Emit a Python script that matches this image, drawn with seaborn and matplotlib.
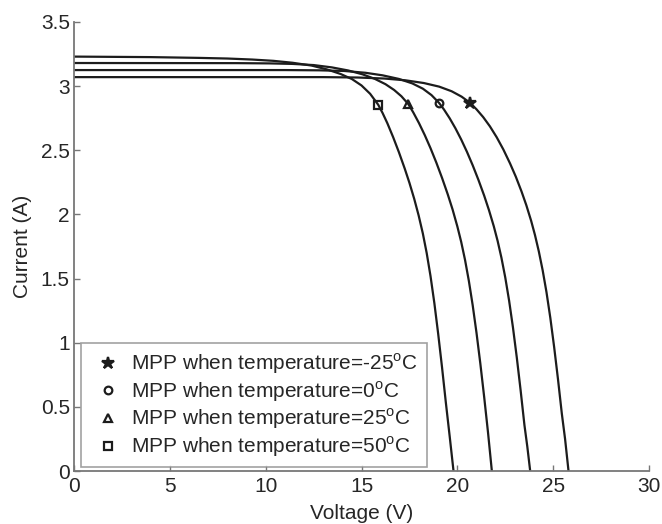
import matplotlib
matplotlib.use("Agg")
import matplotlib.pyplot as plt
import seaborn as sns
import pandas as pd

# I-V curves of the PV module at four cell temperatures
temps = [-25, 0, 25, 50]

v_m25 = [0, 13.0, 14.8, 16.2, 17.3, 18.25, 19.05, 19.7, 20.22, 20.66, 21.0, 21.35, 21.7,
         22.05, 22.4, 22.75, 23.05, 23.35, 23.6, 23.85, 24.05, 24.25, 24.45, 24.65,
         24.85, 25.05, 25.25, 25.45, 25.62, 25.8]
i_m25 = [3.07, 3.07, 3.067, 3.059, 3.045, 3.024, 2.996, 2.96, 2.918, 2.87, 2.819, 2.758, 2.686,
         2.602, 2.506, 2.397, 2.294, 2.178, 2.071, 1.95, 1.839, 1.712, 1.565, 1.394,
         1.194, 0.966, 0.716, 0.448, 0.25, 0]

v_0 = [0, 11.0, 12.8, 14.1, 15.2, 16.1, 16.95, 17.65, 18.2, 18.65, 19.04, 19.3, 19.6, 19.9,
       20.2, 20.5, 20.8, 21.1, 21.4, 21.65, 21.9, 22.1, 22.3, 22.5, 22.7, 22.9, 23.1,
       23.3, 23.5, 23.65, 23.8]
i_0 = [3.125, 3.125, 3.123, 3.118, 3.104, 3.084, 3.056, 3.021, 2.98, 2.93, 2.87, 2.818, 2.749,
       2.671, 2.584, 2.488, 2.383, 2.269, 2.146, 2.033, 1.908, 1.794, 1.662, 1.508, 1.328,
       1.12, 0.886, 0.63, 0.358, 0.19, 0]

v_25 = [0, 8.5, 10.2, 11.4, 12.5, 13.45, 14.3, 15.05, 15.7, 16.25, 16.70, 17.08, 17.44,
        17.7, 18.0, 18.3, 18.6, 18.9, 19.2, 19.5, 19.75, 20.0, 20.2, 20.4, 20.6, 20.8,
        21.0, 21.2, 21.4, 21.6, 21.8]
i_25 = [3.18, 3.179, 3.177, 3.173, 3.164, 3.146, 3.122, 3.092, 3.056, 3.015, 2.97, 2.921, 2.86,
        2.795, 2.711, 2.618, 2.516, 2.405, 2.285, 2.156, 2.039, 1.906, 1.786, 1.646, 1.482,
        1.292, 1.076, 0.836, 0.576, 0.30, 0]

v_50 = [0, 4.0, 6.5, 8.0, 9.3, 10.4, 11.4, 12.4, 13.2, 13.9, 14.5, 15.0, 15.45, 15.87,
        16.1, 16.35, 16.65, 16.95, 17.25, 17.5, 17.75, 17.98, 18.2, 18.4, 18.6, 18.8,
        19.0, 19.2, 19.4, 19.6, 19.8]
i_50 = [3.23, 3.226, 3.22, 3.215, 3.207, 3.197, 3.182, 3.16, 3.13, 3.095, 3.055, 3.005, 2.94,
        2.855, 2.79, 2.71, 2.602, 2.485, 2.359, 2.246, 2.121, 1.992, 1.851, 1.699, 1.519,
        1.309, 1.069, 0.809, 0.533, 0.27, 0]

# maximum power points
mpp_v = [20.66, 19.04, 17.44, 15.87]
mpp_i = [2.87, 2.87, 2.86, 2.855]
mpp_markers = ["*", "o", "^", "s"]

curves = [(v_m25, i_m25), (v_0, i_0), (v_25, i_25), (v_50, i_50)]

sns.set_theme(style="white")
plt.rcParams["font.family"] = ["Liberation Sans", "DejaVu Sans"]

fig = plt.figure(figsize=(6.62, 5.24), dpi=100)
ax = fig.add_axes([0.1118, 0.1011, 0.8686, 0.857])

line_col = "#1c1c1c"
for (v, i), t in zip(curves, temps):
    df = pd.DataFrame({"Voltage": v, "Current": i})
    sns.lineplot(data=df, x="Voltage", y="Current", ax=ax, sort=False,
                 color=line_col, linewidth=1.6, legend=False)

for vm, im, mk, t in zip(mpp_v, mpp_i, mpp_markers, temps):
    ms = 9 if mk == "*" else 5.5
    ax.plot([vm], [im], linestyle="none", marker=mk, markersize=ms,
            markerfacecolor=line_col if mk == "*" else "none",
            markeredgecolor=line_col, markeredgewidth=1.6,
            label=f"MPP when temperature={t}$^{{\\mathregular{{o}}}}$C")

ax.set_xlim(0, 30)
ax.set_ylim(0, 3.5)
ax.set_xticks([0, 5, 10, 15, 20, 25, 30])
ax.set_yticks([0, 0.5, 1, 1.5, 2, 2.5, 3, 3.5])
ax.set_xticklabels(["0", "5", "10", "15", "20", "25", "30"])
ax.set_yticklabels(["0", "0.5", "1", "1.5", "2", "2.5", "3", "3.5"])
ax.set_xlabel("Voltage (V)", fontsize=15, color="#262626", labelpad=6)
ax.set_ylabel("Current (A)", fontsize=15, color="#262626", labelpad=6)

for side in ["top", "right"]:
    ax.spines[side].set_visible(False)
for side in ["left", "bottom"]:
    ax.spines[side].set_color("#777777")
    ax.spines[side].set_linewidth(1.3)
ax.tick_params(direction="in", length=4, width=1, color="#777777",
               labelsize=15, labelcolor="#262626", left=True, bottom=True)
ax.tick_params(axis="x", pad=4)
ax.tick_params(axis="y", pad=3)

leg = ax.legend(loc="lower left", bbox_to_anchor=(0.013, 0.008), borderaxespad=0,
                fontsize=15, frameon=True, fancybox=False, handlelength=1.7,
                handletextpad=0.3, labelspacing=0.14, borderpad=0.4)
leg.get_frame().set_edgecolor("#8a8a8a")
leg.get_frame().set_linewidth(1.2)
for txt in leg.get_texts():
    txt.set_color("#262626")

fig.savefig("out.png", dpi=100)
